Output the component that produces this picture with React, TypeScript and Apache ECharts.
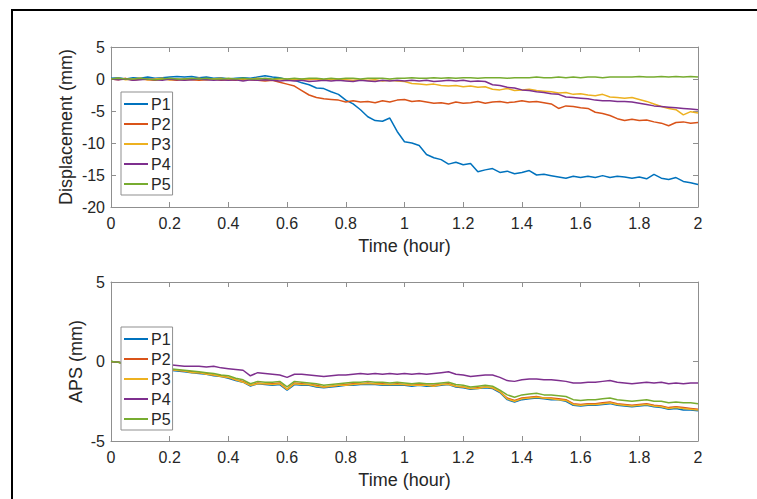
import React, { useEffect, useRef } from "react";
import * as echarts from "echarts";

const time = [
  0, 0.025, 0.05, 0.075, 0.1, 0.125, 0.15, 0.175, 0.2, 0.225,
  0.25, 0.275, 0.3, 0.325, 0.35, 0.375, 0.4, 0.425, 0.45, 0.475,
  0.5, 0.525, 0.55, 0.575, 0.6, 0.625, 0.65, 0.675, 0.7, 0.725,
  0.75, 0.775, 0.8, 0.825, 0.85, 0.875, 0.9, 0.925, 0.95, 0.975,
  1.0, 1.025, 1.05, 1.075, 1.1, 1.125, 1.15, 1.175, 1.2, 1.225,
  1.25, 1.275, 1.3, 1.325, 1.35, 1.375, 1.4, 1.425, 1.45, 1.475,
  1.5, 1.525, 1.55, 1.575, 1.6, 1.625, 1.65, 1.675, 1.7, 1.725,
  1.75, 1.775, 1.8, 1.825, 1.85, 1.875, 1.9, 1.925, 1.95, 1.975,
  2.0,
];

const seriesNames = ["P1", "P2", "P3", "P4", "P5"];
const colors = ["#0072BD", "#D95319", "#EDB120", "#7E2F8E", "#77AC30"];

// Displacement (mm)
const dispP1 = [
  0.1, 0.2, 0.0, 0.2, 0.1, 0.3, 0.1, 0.2, 0.3, 0.4,
  0.3, 0.4, 0.2, 0.3, 0.1, 0.2, 0.0, 0.1, 0.2, 0.1,
  0.3, 0.5, 0.3, 0.2, -0.1, -0.2, -0.6, -0.9, -1.4, -1.5,
  -2.0, -2.4, -3.3, -3.9, -4.8, -5.9, -6.5, -6.6, -6.1, -8.2,
  -9.8, -10.0, -10.4, -11.8, -12.3, -12.6, -13.3, -13.0, -13.4, -13.2,
  -14.5, -14.2, -14.0, -14.6, -14.4, -14.8, -14.6, -14.3, -15.0, -14.9,
  -15.1, -15.3, -15.5, -15.2, -15.4, -15.2, -15.4, -15.1, -15.4, -15.2,
  -15.3, -15.5, -15.3, -15.6, -14.9, -15.5, -15.7, -15.4, -16.0, -16.2,
  -16.5,
];
const dispP2 = [
  0.0, -0.1, 0.1, -0.2, 0.0, -0.1, -0.2, 0.0, -0.1, -0.2,
  0.0, -0.1, -0.2, -0.1, 0.0, -0.2, -0.1, -0.2, 0.0, -0.1,
  -0.2, -0.3, -0.2, -0.5, -0.8, -1.1, -1.8, -2.5, -2.9, -3.1,
  -3.2, -3.3, -3.6, -3.4, -3.6, -3.5, -3.7, -3.4, -3.6, -3.3,
  -3.2, -3.5, -3.4, -3.6, -3.8, -3.7, -3.9, -3.6, -3.8, -3.7,
  -3.5, -3.8, -3.6, -3.5, -3.7, -3.6, -3.4, -3.6, -3.5, -3.7,
  -3.9, -4.6, -4.2, -4.3, -4.5, -4.6, -5.2, -5.4, -5.7, -6.2,
  -6.5, -6.3, -6.5, -6.4, -6.7, -6.9, -7.3, -6.8, -6.7, -6.9,
  -6.8,
];
const dispP3 = [
  0.0, 0.1, -0.1, 0.0, 0.1, -0.1, 0.0, 0.1, -0.1, 0.0,
  -0.2, 0.0, 0.1, -0.1, 0.0, 0.1, -0.1, 0.0, -0.2, 0.0,
  0.1, 0.0, -0.1, 0.0, 0.0, -0.1, 0.0, -0.1, 0.0, -0.1,
  -0.1, 0.0, -0.1, -0.2, -0.1, -0.2, -0.1, -0.3, -0.2, -0.3,
  -0.4, -0.7, -0.8, -0.9, -0.8, -1.0, -1.1, -1.0, -1.2, -1.1,
  -1.3, -1.2, -1.6, -1.7, -1.5, -1.8, -1.7, -1.6, -1.8, -1.9,
  -2.0, -2.2, -2.1, -2.4, -2.3, -2.5, -2.6, -2.4, -2.8, -2.9,
  -3.0, -2.9, -3.2, -3.5, -3.9, -4.3, -4.6, -4.8, -5.6, -5.1,
  -5.3,
];
const dispP4 = [
  0.0, -0.1, 0.0, -0.2, -0.1, 0.0, -0.1, -0.2, 0.0, -0.1,
  -0.2, -0.1, 0.0, -0.1, -0.2, -0.1, -0.2, -0.1, -0.3, -0.1,
  -0.2, -0.1, -0.2, -0.3, -0.2, -0.3, -0.2, -0.4, -0.3, -0.2,
  -0.3, -0.2, -0.3, -0.4, -0.2, -0.3, -0.4, -0.2, -0.3, -0.2,
  -0.3, -0.2, -0.3, -0.2, -0.4, -0.3, -0.2, -0.3, -0.2, -0.4,
  -0.3, -0.4, -0.9, -1.0, -1.3, -1.4, -1.7, -1.8, -2.0, -2.1,
  -2.3, -2.4, -2.8, -2.9, -3.0, -3.1, -3.3, -3.4, -3.4, -3.5,
  -3.5, -3.6, -3.8, -4.0, -4.2, -4.3, -4.4, -4.5, -4.6, -4.7,
  -4.8,
];
const dispP5 = [
  0.0, 0.1, 0.0, 0.0, 0.1, 0.0, -0.1, 0.0, 0.1, 0.0,
  0.0, 0.1, 0.0, 0.1, 0.0, 0.0, 0.1, 0.0, 0.1, 0.0,
  0.0, 0.1, 0.0, 0.1, 0.0, 0.1, 0.0, 0.1, 0.1, 0.0,
  0.1, 0.0, 0.1, 0.1, 0.0, 0.1, 0.1, 0.1, 0.0, 0.1,
  0.1, 0.2, 0.1, 0.1, 0.2, 0.1, 0.2, 0.1, 0.2, 0.2,
  0.1, 0.2, 0.2, 0.2, 0.1, 0.2, 0.2, 0.2, 0.3, 0.2,
  0.2, 0.3, 0.2, 0.3, 0.2, 0.3, 0.3, 0.2, 0.3, 0.3,
  0.3, 0.3, 0.4, 0.3, 0.3, 0.4, 0.3, 0.4, 0.3, 0.4,
  0.3,
];

// APS (mm)
const apsP1 = [
  0.0, -0.05, -0.15, -0.3, -0.35, -0.4, -0.45, -0.5, -0.55, -0.6,
  -0.65, -0.7, -0.75, -0.8, -0.9, -0.95, -1.05, -1.2, -1.3, -1.55,
  -1.4, -1.45, -1.5, -1.45, -1.8, -1.45, -1.5, -1.5, -1.6, -1.65,
  -1.6, -1.55, -1.5, -1.5, -1.45, -1.45, -1.45, -1.5, -1.5, -1.5,
  -1.5, -1.55, -1.5, -1.55, -1.55, -1.5, -1.45, -1.6, -1.65, -1.75,
  -1.7, -1.65, -1.7, -1.95, -2.4, -2.55, -2.4, -2.35, -2.3, -2.35,
  -2.4, -2.4, -2.5, -2.75, -2.8, -2.75, -2.75, -2.7, -2.65, -2.75,
  -2.8, -2.85, -2.8, -2.75, -2.85, -2.9, -3.0, -2.95, -3.05, -3.05,
  -3.1,
];
const apsP2 = [
  0.0, -0.05, -0.15, -0.25, -0.3, -0.35, -0.4, -0.45, -0.5, -0.55,
  -0.6, -0.65, -0.7, -0.75, -0.85, -0.9, -1.0, -1.15, -1.25, -1.5,
  -1.35, -1.4, -1.4, -1.35, -1.75, -1.35, -1.4, -1.45, -1.5, -1.6,
  -1.55, -1.5, -1.45, -1.4, -1.4, -1.35, -1.4, -1.4, -1.45, -1.4,
  -1.45, -1.5, -1.45, -1.5, -1.5, -1.45, -1.4, -1.55, -1.6, -1.7,
  -1.65, -1.6, -1.65, -1.9, -2.3, -2.45, -2.3, -2.25, -2.2, -2.3,
  -2.3, -2.35, -2.4, -2.65, -2.7, -2.65, -2.65, -2.6, -2.55, -2.65,
  -2.7, -2.75, -2.7, -2.65, -2.75, -2.8, -2.9, -2.85, -2.9, -2.95,
  -3.0,
];
const apsP3 = [
  0.0, -0.05, -0.15, -0.25, -0.3, -0.4, -0.4, -0.5, -0.5, -0.55,
  -0.6, -0.7, -0.7, -0.8, -0.85, -0.95, -1.0, -1.15, -1.3, -1.5,
  -1.4, -1.4, -1.45, -1.4, -1.75, -1.4, -1.45, -1.45, -1.55, -1.6,
  -1.55, -1.5, -1.5, -1.45, -1.4, -1.4, -1.4, -1.45, -1.45, -1.45,
  -1.45, -1.5, -1.5, -1.5, -1.55, -1.45, -1.45, -1.55, -1.6, -1.7,
  -1.7, -1.6, -1.65, -1.9, -2.35, -2.5, -2.35, -2.3, -2.25, -2.3,
  -2.35, -2.4, -2.45, -2.7, -2.75, -2.7, -2.7, -2.65, -2.6, -2.7,
  -2.75, -2.8, -2.75, -2.7, -2.8, -2.85, -2.95, -2.9, -2.95, -3.0,
  -3.05,
];
const apsP4 = [
  0.0, -0.05, -0.1, -0.2, -0.2, -0.2, -0.25, -0.2, -0.2, -0.25,
  -0.3, -0.3, -0.3, -0.35, -0.3, -0.4, -0.45, -0.5, -0.55, -0.9,
  -0.7, -0.75, -0.8, -0.85, -1.0, -0.8, -0.8, -0.85, -0.9, -0.95,
  -0.9, -0.85, -0.85, -0.8, -0.75, -0.8, -0.75, -0.8, -0.75, -0.8,
  -0.75, -0.8, -0.75, -0.8, -0.75, -0.7, -0.65, -0.8, -0.85, -0.95,
  -0.9, -0.85, -0.85, -1.0, -1.2, -1.25, -1.15, -1.1, -1.1, -1.15,
  -1.15, -1.2, -1.25, -1.35, -1.35, -1.3, -1.3, -1.25, -1.2, -1.3,
  -1.35, -1.4, -1.35, -1.3, -1.35, -1.3, -1.4, -1.35, -1.4, -1.35,
  -1.35,
];
const apsP5 = [
  0.0, -0.05, -0.15, -0.2, -0.25, -0.3, -0.35, -0.4, -0.45, -0.5,
  -0.55, -0.6, -0.65, -0.7, -0.75, -0.85, -0.9, -1.05, -1.15, -1.4,
  -1.25, -1.3, -1.3, -1.25, -1.6, -1.25, -1.3, -1.35, -1.4, -1.5,
  -1.45, -1.4, -1.35, -1.3, -1.3, -1.25, -1.3, -1.3, -1.35, -1.3,
  -1.35, -1.4, -1.35, -1.4, -1.4, -1.35, -1.3, -1.45, -1.5, -1.6,
  -1.55, -1.5, -1.55, -1.8, -2.1, -2.25, -2.1, -2.05, -2.0, -2.1,
  -2.1, -2.15, -2.2, -2.4, -2.45, -2.4, -2.4, -2.35, -2.3, -2.4,
  -2.45, -2.5, -2.45, -2.4, -2.5, -2.5, -2.6, -2.55, -2.6, -2.6,
  -2.65,
];

const dispSeries = [dispP1, dispP2, dispP3, dispP4, dispP5];
const apsSeries = [apsP1, apsP2, apsP3, apsP4, apsP5];

export default function App() {
  const ref = useRef<HTMLDivElement>(null);

  useEffect(() => {
    if (!ref.current) return;
    const chart = echarts.init(ref.current, null, { renderer: "svg" });
    const font = "'Liberation Sans', Arial, Helvetica, sans-serif";
    const axisGray = "#8f8f8f";
    const textColor = "#262626";

    const axisCommon = {
      splitLine: { show: false },
      axisLine: { show: true, onZero: false, lineStyle: { color: axisGray, width: 1 } },
      axisTick: { show: true, inside: true, length: 5, lineStyle: { color: axisGray, width: 1 } },
    };

    const xAxis = (gridIndex: number, position: "top" | "bottom", labels: boolean) => ({
      type: "value",
      gridIndex,
      position,
      min: 0,
      max: 2,
      interval: 0.2,
      ...axisCommon,
      axisLabel: {
        show: labels,
        margin: 8,
        fontSize: 16,
        color: textColor,
        fontFamily: font,
        formatter: (v: number) => String(Math.round(v * 10) / 10),
      },
      name: labels ? "Time (hour)" : "",
      nameLocation: "middle",
      nameGap: 30,
      nameMoveOverlap: false,
      nameTextStyle: { fontSize: 18, color: textColor, fontFamily: font },
    });

    const yAxis = (
      gridIndex: number,
      position: "left" | "right",
      min: number,
      max: number,
      name: string,
      nameGap: number
    ) => ({
      type: "value",
      gridIndex,
      position,
      min,
      max,
      interval: 5,
      ...axisCommon,
      axisLabel: {
        show: position === "left",
        margin: 6,
        fontSize: 16,
        color: textColor,
        fontFamily: font,
      },
      name: position === "left" ? name : "",
      nameLocation: "middle",
      nameGap,
      nameMoveOverlap: false,
      nameTextStyle: { fontSize: 18, color: textColor, fontFamily: font },
    });

    const makeSeries = (data: number[][], axisIdx: number) =>
      data.map((vals, i) => ({
        name: seriesNames[i],
        type: "line",
        xAxisIndex: axisIdx,
        yAxisIndex: axisIdx,
        data: vals.map((v, j) => [time[j], v]),
        showSymbol: false,
        symbol: "none",
        clip: true,
        lineStyle: { color: colors[i], width: 1.5 },
        itemStyle: { color: colors[i] },
      }));

    const legendCommon = {
      data: seriesNames,
      left: 121,
      orient: "vertical",
      icon: "rect",
      itemWidth: 24,
      itemHeight: 2,
      itemGap: 4,
      padding: [4, 2, 3, 3],
      borderColor: axisGray,
      borderWidth: 1,
      borderRadius: 0,
      backgroundColor: "#ffffff",
      selectedMode: false,
      textStyle: { fontSize: 16, color: textColor, fontFamily: font, padding: [0, 0, 0, -2] },
    };

    chart.setOption({
      animation: false,
      backgroundColor: "#ffffff",
      grid: [
        { left: 111, top: 47, width: 587, height: 160 },
        { left: 111, top: 282, width: 587, height: 159 },
      ],
      xAxis: [
        xAxis(0, "bottom", true),
        xAxis(0, "top", false),
        xAxis(1, "bottom", true),
        xAxis(1, "top", false),
      ],
      yAxis: [
        yAxis(0, "left", -20, 5, "Displacement (mm)", 36),
        yAxis(0, "right", -20, 5, "", 0),
        yAxis(1, "left", -5, 5, "APS (mm)", 26),
        yAxis(1, "right", -5, 5, "", 0),
      ],
      legend: [
        { ...legendCommon, top: 92 },
        { ...legendCommon, top: 327 },
      ],
      series: [...makeSeries(dispSeries, 0), ...makeSeries(apsSeries, 2)],
      graphic: [
        {
          type: "rect",
          silent: true,
          z: 100,
          shape: { x: 12, y: 10, width: 800, height: 600 },
          style: { fill: "none", stroke: "#000000", lineWidth: 2 },
        },
      ],
    });

    return () => chart.dispose();
  }, []);

  return (
    <div
      ref={ref}
      style={{ position: "fixed", left: 0, top: 0, width: 757, height: 499, background: "#ffffff" }}
    />
  );
}
